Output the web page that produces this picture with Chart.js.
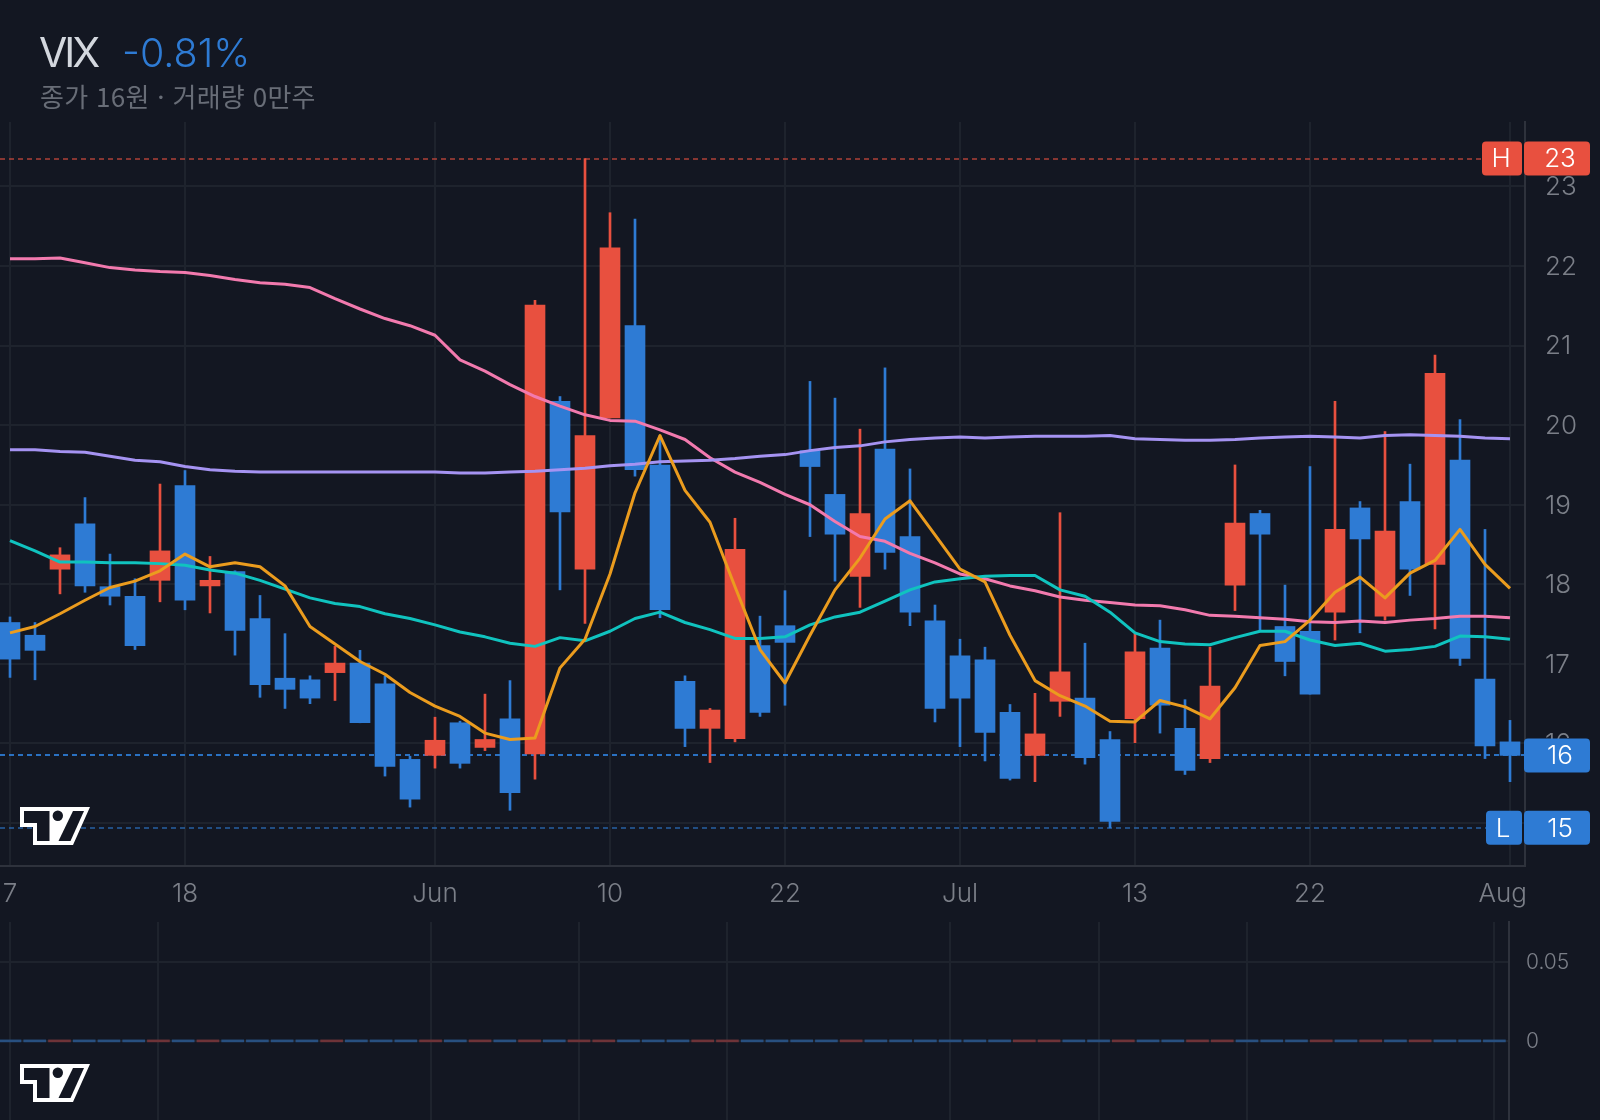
<!DOCTYPE html>
<html lang="ko">
<head>
<meta charset="utf-8">
<title>VIX</title>
<script src="https://cdn.jsdelivr.net/npm/chart.js@4"></script>
<style>
  html,body{margin:0;padding:0;background:#131722;width:1600px;height:1120px;overflow:hidden}
  canvas{position:absolute;left:0;display:block}
  #main{top:0}
  #vol{top:920px}
  .t{position:absolute;white-space:nowrap;line-height:1}
  #sym{left:39px;top:27px;font:400 41px Inter,sans-serif;color:#d3d7de;letter-spacing:-3px}
  #chg{left:122px;top:29px;font:300 39.5px Inter,sans-serif;color:#2e7bd4}
  #sub{left:40px;top:77px;font:400 26px "Noto Sans CJK KR",sans-serif;color:#686d77;letter-spacing:.3px}
</style>
</head>
<body>
<canvas id="main" width="1600" height="920"></canvas>
<canvas id="vol" width="1600" height="200"></canvas>
<div class="t" id="sym">VIX</div>
<div class="t" id="chg">-0.81%</div>
<div class="t" id="sub">종가 16원 · 거래량 0만주</div>
<script>
const opens  = [17.52,17.36,18.19,18.76,17.97,17.85,18.05,19.24,17.98,18.16,17.57,16.82,16.80,16.89,17.01,16.75,15.80,15.85,16.26,15.95,16.31,15.87,20.30,18.19,20.09,21.25,19.50,16.78,16.19,16.06,17.23,17.48,19.68,19.13,18.10,19.70,18.60,17.54,17.10,17.05,16.39,15.85,16.53,16.57,16.05,16.31,17.20,16.19,15.81,17.99,18.89,17.47,17.41,17.65,18.96,17.60,19.04,18.25,19.56,16.81,16.02];
const closes = [17.06,17.17,18.37,17.98,17.85,17.23,18.42,17.80,18.05,17.42,16.74,16.68,16.57,17.01,16.26,15.71,15.30,16.04,15.75,16.05,15.38,21.51,18.91,19.87,22.23,19.44,17.68,16.19,16.42,18.44,16.39,17.27,19.48,18.63,18.89,18.40,17.65,16.44,16.57,16.14,15.56,16.12,16.90,15.82,15.02,17.15,16.48,15.66,16.72,18.77,18.63,17.03,16.62,18.69,18.57,18.67,18.19,20.65,17.07,15.97,15.85];
const highs  = [17.59,17.52,18.46,19.09,18.38,18.07,19.26,19.43,18.35,18.17,17.86,17.38,16.85,17.22,17.17,16.85,15.84,16.33,16.28,16.62,16.79,21.57,20.36,23.35,22.67,22.59,19.87,16.85,16.44,18.83,17.60,17.92,20.55,20.34,19.95,20.72,19.45,17.74,17.31,17.21,16.49,16.63,18.90,17.26,16.15,17.38,17.55,16.55,17.21,19.50,18.93,17.99,19.48,20.30,19.04,19.92,19.51,20.88,20.07,18.69,16.29];
const lows   = [16.83,16.80,17.88,17.90,17.74,17.18,17.78,17.68,17.64,17.11,16.58,16.44,16.50,16.54,16.26,15.59,15.20,15.69,15.69,15.91,15.16,15.55,17.93,17.51,20.09,19.36,17.58,15.96,15.76,16.02,16.34,16.48,18.60,18.04,17.71,18.19,17.48,16.27,15.96,15.78,15.54,15.52,16.34,15.74,14.94,16.01,16.13,15.61,15.76,17.67,17.42,16.85,16.62,17.30,17.39,17.55,17.86,17.44,16.98,15.81,15.52];
const maOrange = [17.39,17.47,17.63,17.80,17.96,18.04,18.17,18.38,18.22,18.27,18.22,17.98,17.47,17.25,17.03,16.87,16.64,16.47,16.34,16.13,16.05,16.07,16.95,17.31,18.13,19.15,19.87,19.18,18.78,17.97,17.18,16.76,17.36,17.93,18.33,18.82,19.05,18.62,18.19,18.03,17.36,16.79,16.60,16.47,16.28,16.27,16.54,16.46,16.31,16.70,17.23,17.28,17.55,17.90,18.09,17.83,18.14,18.30,18.69,18.25,17.95];
const maTeal = [18.55,18.42,18.28,18.28,18.27,18.27,18.26,18.24,18.18,18.14,18.05,17.94,17.83,17.76,17.72,17.63,17.57,17.49,17.40,17.34,17.26,17.22,17.33,17.29,17.41,17.57,17.65,17.52,17.43,17.32,17.32,17.34,17.49,17.59,17.65,17.79,17.93,18.03,18.07,18.10,18.11,18.11,17.93,17.85,17.65,17.39,17.28,17.25,17.24,17.33,17.41,17.41,17.30,17.23,17.26,17.16,17.18,17.22,17.35,17.34,17.31];
const maPink = [22.09,22.09,22.10,22.04,21.98,21.95,21.93,21.92,21.88,21.83,21.79,21.77,21.73,21.59,21.46,21.34,21.25,21.13,20.82,20.68,20.51,20.36,20.24,20.13,20.06,20.05,19.94,19.82,19.59,19.41,19.28,19.13,19.00,18.79,18.60,18.54,18.39,18.27,18.13,18.07,17.98,17.92,17.84,17.80,17.77,17.74,17.73,17.68,17.61,17.60,17.58,17.56,17.53,17.52,17.54,17.52,17.55,17.57,17.60,17.60,17.58];
const maPurple = [19.69,19.69,19.67,19.66,19.61,19.56,19.54,19.48,19.44,19.42,19.41,19.41,19.41,19.41,19.41,19.41,19.41,19.41,19.40,19.40,19.41,19.42,19.44,19.46,19.49,19.51,19.54,19.55,19.56,19.58,19.61,19.63,19.68,19.72,19.74,19.79,19.82,19.84,19.85,19.84,19.85,19.86,19.86,19.86,19.87,19.83,19.82,19.81,19.81,19.82,19.84,19.85,19.86,19.85,19.84,19.87,19.88,19.87,19.86,19.84,19.83];
const volumes = opens.map(() => 0);
const priceTicks = [15,16,17,18,19,20,21,22,23];
const dateTickIndex = [0,7,17,24,31,38,45,52,60];
const dateTickLabels = ['7','18','Jun','10','22','Jul','13','22','Aug'];
const volTickIndex = [0,6,17,23,29,38,44,50,60];
const volTicks = [0,0.05];
const highMark = 23.35, lowMark = 14.94, closeMark = 15.85;

const RED='#e8503f', BLUE='#2e7bd4', GRID='#1e232d', AXIS='#2e323c', TICK='#7b7f88';
const FONT='Inter, sans-serif';
const idx = opens.map((_,i)=>i);
const candleColors = idx.map(i => closes[i] >= opens[i] ? RED : BLUE);
const volColors = idx.map(i => closes[i] >= opens[i] ? '#6e3338' : '#285080');
const pts = arr => arr.map((y,x)=>({x,y}));
const noPad = a => {a.paddingLeft=0;a.paddingRight=0;a.paddingTop=0;a.paddingBottom=0;};

function drawLogo(ctx,x,y,bg){
  ctx.save();
  ctx.translate(x,y);
  ctx.beginPath();
  [[0,0],[70,0],[53,38],[13,38],[13,20],[0,20]].forEach((p,i)=>i?ctx.lineTo(p[0],p[1]):ctx.moveTo(p[0],p[1]));
  ctx.closePath();ctx.fillStyle='#ffffff';ctx.fill();
  ctx.fillStyle=bg;
  ctx.beginPath();
  [[4,4],[29.5,4],[29.5,34],[17,34],[17,16],[4,16]].forEach((p,i)=>i?ctx.lineTo(p[0],p[1]):ctx.moveTo(p[0],p[1]));
  ctx.closePath();ctx.fill();
  ctx.beginPath();ctx.arc(37.8,8.8,5.2,0,Math.PI*2);ctx.fill();
  ctx.beginPath();
  [[53,4],[64,4],[50.5,34],[38.5,34]].forEach((p,i)=>i?ctx.lineTo(p[0],p[1]):ctx.moveTo(p[0],p[1]));
  ctx.closePath();ctx.fill();
  ctx.restore();
}
function badge(ctx,x0,x1,cy,color,text,cx){
  ctx.fillStyle=color;
  ctx.beginPath();ctx.roundRect(x0,cy-17,x1-x0,34,4);ctx.fill();
  ctx.fillStyle='#ffffff';
  ctx.font='300 26px '+FONT;
  ctx.textAlign='center';ctx.textBaseline='middle';
  ctx.fillText(text,cx,cy+1);
}
const marks = [
  {v:highMark,color:'rgba(232,80,63,0.55)',end:1482},
  {v:closeMark,color:'rgba(46,123,212,0.9)',end:1524},
  {v:lowMark,color:'rgba(46,123,212,0.55)',end:1486}
];
const markPlugin = {
  id:'marks',
  beforeDatasetsDraw(c){
    const ctx=c.ctx,y=c.scales.y;
    ctx.save();ctx.lineWidth=2;ctx.setLineDash([5,4]);
    marks.forEach(m=>{
      const py=Math.round(y.getPixelForValue(m.v));
      ctx.strokeStyle=m.color;ctx.beginPath();ctx.moveTo(0,py);ctx.lineTo(m.end,py);ctx.stroke();
    });
    ctx.restore();
  },
  afterDraw(c){
    const ctx=c.ctx,y=c.scales.y;
    ctx.save();
    drawLogo(ctx,20,807,'#131722');
    const h=y.getPixelForValue(highMark),l=y.getPixelForValue(lowMark),p=y.getPixelForValue(closeMark);
    badge(ctx,1482,1522,h,RED,'H',1501);
    badge(ctx,1524,1590,h,RED,String(Math.floor(highMark)),1560);
    badge(ctx,1524,1590,p,BLUE,String(Math.round(closeMark)),1560);
    badge(ctx,1486,1522,l,BLUE,'L',1503);
    badge(ctx,1524,1590,l,BLUE,String(Math.round(lowMark)),1560);
    ctx.restore();
  }
};
const line = (label,arr,color,order)=>({type:'line',label,data:pts(arr),borderColor:color,borderWidth:3,pointRadius:0,tension:0,order,borderJoinStyle:'round',borderCapStyle:'butt'});

new Chart(document.getElementById('main'),{
  data:{datasets:[
    line('MA5',maOrange,'#eb9c1e',1),
    line('MA120',maPurple,'#a593f2',2),
    line('MA20',maTeal,'#10c3bf',3),
    line('MA60',maPink,'#f27aae',4),
    {type:'bar',label:'body',data:idx.map(i=>({x:i,y:[opens[i],closes[i]]})),backgroundColor:candleColors,barThickness:20,grouped:false,order:10,borderWidth:0},
    {type:'bar',label:'wick',data:idx.map(i=>({x:i,y:[lows[i],highs[i]]})),backgroundColor:candleColors,barThickness:2,grouped:false,order:11,borderWidth:0}
  ]},
  options:{
    responsive:false,animation:false,devicePixelRatio:1,
    layout:{padding:{top:122,left:0,right:0,bottom:0}},
    plugins:{legend:{display:false},tooltip:{enabled:false},title:{display:false}},
    scales:{
      x:{type:'linear',offset:false,min:-0.4,max:60.6,
        afterBuildTicks:a=>{a.ticks=dateTickIndex.map(value=>({value}));},
        afterFit:a=>{a.height=54;noPad(a);},
        grid:{color:GRID,lineWidth:2,drawTicks:false,offset:false},
        border:{display:true,color:AXIS,width:2},
        ticks:{autoSkip:false,maxRotation:0,minRotation:0,color:TICK,padding:13,font:{family:FONT,size:26,weight:'300'},
          callback:v=>{const k=dateTickIndex.indexOf(v);return k<0?'':(k===dateTickIndex.length-1?dateTickLabels[k]+'  ':dateTickLabels[k]);}}
      },
      y:{type:'linear',position:'right',min:14.46,max:23.81,
        afterBuildTicks:a=>{a.ticks=priceTicks.map(value=>({value}));},
        afterFit:a=>{a.width=75;noPad(a);},
        grid:{color:GRID,lineWidth:2,drawTicks:false},
        border:{display:true,color:AXIS,width:2},
        ticks:{color:TICK,padding:20,labelOffset:1,font:{family:FONT,size:26,weight:'300'},callback:v=>String(v)}
      }
    }
  },
  plugins:[markPlugin]
});

const volLogo={id:'volLogo',afterDraw(c){drawLogo(c.ctx,20,144,'#131722');}};
new Chart(document.getElementById('vol'),{
  data:{datasets:[
    {type:'bar',label:'거래량',data:idx.map(i=>({x:i,y:volumes[i]})),backgroundColor:volColors,barThickness:22,minBarLength:2,grouped:false,borderWidth:0}
  ]},
  options:{
    responsive:false,animation:false,devicePixelRatio:1,
    layout:{padding:{top:2,left:0,right:0,bottom:0}},
    plugins:{legend:{display:false},tooltip:{enabled:false}},
    scales:{
      x:{type:'linear',offset:false,min:-0.404,max:60.59,
        afterBuildTicks:a=>{a.ticks=volTickIndex.map(value=>({value}));},
        afterFit:a=>{a.height=0;noPad(a);},
        grid:{color:GRID,lineWidth:2,drawTicks:false,offset:false},
        border:{display:false},
        ticks:{display:false}
      },
      y:{type:'linear',position:'right',min:-0.0501,max:0.0753,
        afterBuildTicks:a=>{a.ticks=volTicks.map(value=>({value}));},
        afterFit:a=>{a.width=91;noPad(a);},
        grid:{color:GRID,lineWidth:2,drawTicks:false},
        border:{display:true,color:AXIS,width:2},
        ticks:{color:TICK,padding:17,labelOffset:1,font:{family:FONT,size:21,weight:'300'},callback:v=>String(v)}
      }
    }
  },
  plugins:[volLogo]
});
</script>
</body>
</html>
